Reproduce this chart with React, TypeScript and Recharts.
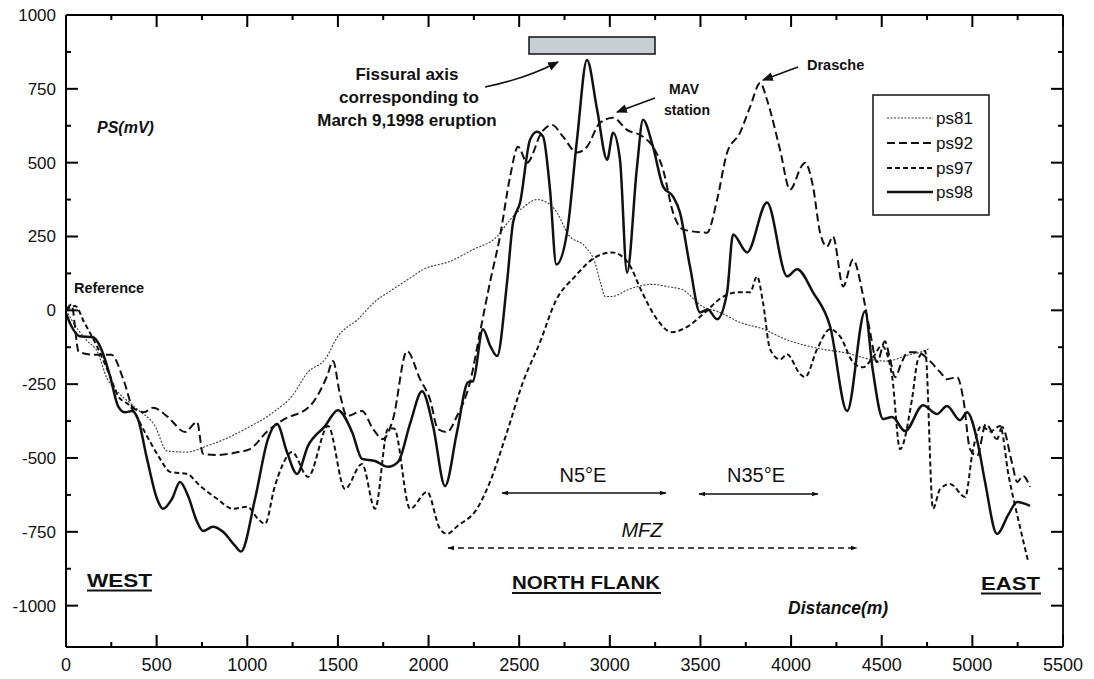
import React from "react";
import { LineChart, Line, XAxis, YAxis, ReferenceLine } from "recharts";

// distance (m), PS (mV)
const ps81: [number, number][] = [
  [0, 0], [60, -60], [120, -105], [171, -138], [226, -230], [287, -277], [392, -334], [491, -392],
  [557, -476], [668, -480], [778, -459], [877, -436], [988, -402], [1153, -341], [1247, -290],
  [1335, -209], [1429, -166], [1500, -88], [1611, -30], [1705, 30], [1788, 65], [1900, 110],
  [1970, 138], [2119, 166], [2246, 206], [2378, 250], [2450, 307], [2521, 348], [2598, 375],
  [2654, 365], [2709, 331], [2770, 257], [2863, 216], [2918, 162], [2950, 90], [2974, 47],
  [3012, 47], [3100, 70], [3156, 81], [3233, 88], [3320, 80], [3398, 71], [3509, 14], [3608, -7],
  [3718, -41], [3840, -62], [3978, -100], [4160, -130], [4309, -145], [4436, -166], [4530, -172],
  [4640, -152], [4711, -142], [4760, -130],
];

const ps92: [number, number][] = [
  [0, 0], [30, 20], [70, -140], [150, -150], [250, -150], [320, -240], [370, -330], [430, -345],
  [480, -330], [560, -360], [657, -412], [723, -378], [756, -486], [830, -490], [950, -480],
  [1015, -470], [1110, -410], [1200, -370], [1346, -324], [1440, -223], [1473, -172], [1510, -280],
  [1550, -358], [1633, -341], [1694, -402], [1749, -436], [1804, -368], [1881, -138], [1953, -233],
  [2008, -301], [2052, -402], [2102, -412], [2157, -358], [2229, -243], [2284, -74], [2339, 95],
  [2394, 250], [2450, 453], [2494, 554], [2543, 500], [2626, 605], [2681, 628], [2742, 588],
  [2819, 534], [2874, 554], [2946, 635], [3018, 652], [3095, 611], [3183, 588], [3238, 554],
  [3294, 476], [3349, 331], [3404, 274], [3536, 263], [3592, 375], [3647, 534], [3718, 601],
  [3774, 689], [3830, 770], [3867, 713], [3939, 544], [3994, 409], [4060, 490], [4077, 500],
  [4121, 419], [4160, 263], [4198, 216], [4231, 250], [4287, 81], [4342, 172], [4397, 50],
  [4436, -74], [4474, -176], [4518, -105], [4546, -166], [4574, -226], [4610, -176], [4645, -142],
  [4700, -142], [4756, -166], [4822, -209], [4860, -233], [4916, -226], [4950, -300], [4987, -470],
  [5026, -493], [5075, -385], [5136, -436], [5164, -395], [5220, -520], [5247, -581], [5280, -561],
  [5318, -598],
];

const ps97: [number, number][] = [
  [0, 0], [50, 15], [100, -40], [171, -122], [243, -223], [287, -290], [353, -324], [447, -426],
  [519, -503], [574, -547], [668, -554], [739, -594], [833, -638], [921, -672], [1000, -665],
  [1059, -706], [1098, -723], [1150, -600], [1192, -527], [1247, -480], [1335, -564], [1446, -392],
  [1539, -605], [1633, -520], [1705, -672], [1776, -402], [1810, -400], [1898, -672], [1992, -615],
  [2063, -740], [2102, -757], [2160, -730], [2267, -672], [2339, -581], [2433, -412], [2521, -243],
  [2615, -108], [2700, 30], [2808, 115], [2918, 179], [3012, 196], [3100, 162], [3178, 61],
  [3249, -20], [3343, -74], [3431, -54], [3525, -7], [3619, 44], [3702, 61], [3774, 61], [3812, 115],
  [3845, 27], [3884, -132], [3939, -166], [3978, -149], [4050, -216], [4077, -226], [4143, -132],
  [4215, -64], [4270, -88], [4342, -176], [4397, -193], [4452, -159], [4500, -120], [4557, -223],
  [4601, -470], [4667, -301], [4700, -166], [4740, -138], [4783, -672], [4822, -605], [4877, -588],
  [4960, -632], [5004, -470], [5050, -392], [5100, -410], [5153, -392], [5200, -560], [5250, -700],
  [5307, -848],
];

const ps98: [number, number][] = [
  [0, -10], [30, -54], [77, -88], [149, -91], [188, -122], [243, -223], [287, -324], [326, -345],
  [364, -341], [397, -368], [447, -503], [502, -638], [535, -672], [585, -638], [629, -581],
  [673, -628], [723, -716], [756, -747], [811, -733], [866, -750], [932, -797], [965, -817],
  [1043, -638], [1114, -436], [1164, -385], [1219, -480], [1274, -554], [1335, -459], [1429, -392],
  [1500, -338], [1578, -412], [1633, -503], [1705, -510], [1776, -530], [1832, -513], [1900, -380],
  [1964, -274], [2025, -392], [2091, -595], [2157, -412], [2218, -243], [2245, -240], [2300, -64],
  [2340, -120], [2378, -155], [2433, 95], [2466, 297], [2505, 365], [2560, 578], [2598, 605],
  [2632, 588], [2670, 409], [2705, 155], [2764, 263], [2819, 578], [2874, 848], [2930, 679],
  [2985, 510], [3018, 601], [3056, 510], [3095, 128], [3150, 486], [3183, 645], [3238, 554],
  [3294, 419], [3349, 385], [3387, 331], [3442, 149], [3498, -7], [3540, 3], [3592, -30], [3647, 61],
  [3680, 257], [3757, 196], [3867, 365], [3978, 115], [4033, 139], [4121, 61], [4215, -54],
  [4309, -341], [4408, -3], [4450, -200], [4508, -368], [4557, -361], [4629, -409], [4728, -321],
  [4805, -351], [4860, -324], [4932, -372], [4971, -345], [5030, -450], [5070, -581], [5136, -757],
  [5200, -690], [5247, -649], [5318, -662],
];

const xTicks = Array.from({ length: 23 }, (_, i) => i * 250);
const yTicks = Array.from({ length: 17 }, (_, i) => -1000 + i * 125);
const xLabels = xTicks.filter((v) => v % 500 === 0);
const yLabels = yTicks.filter((v) => v % 250 === 0);

const X_MIN = 0;
const X_MAX = 5500;
const Y_MIN = -1140;
const Y_MAX = 1000;

// plot box in page pixels (matches the chart margins + axis sizes below)
const PLOT = { left: 66, top: 15, right: 1063, bottom: 647 };
const sx = (v: number) => PLOT.left + ((v - X_MIN) / (X_MAX - X_MIN)) * (PLOT.right - PLOT.left);
const sy = (v: number) => PLOT.top + ((Y_MAX - v) / (Y_MAX - Y_MIN)) * (PLOT.bottom - PLOT.top);

const toRows = (pts: [number, number][]) => pts.map(([x, v]) => ({ x, v }));

const series = [
  { name: "ps81", pts: ps81, dash: "2 1.5", width: 1.1, color: "#3a3a3a" },
  { name: "ps92", pts: ps92, dash: "8 4", width: 2, color: "#111" },
  { name: "ps97", pts: ps97, dash: "5 3", width: 2, color: "#111" },
  { name: "ps98", pts: ps98, dash: undefined, width: 2.5, color: "#111" },
];

const FONT = "'Liberation Sans', Arial, Helvetica, sans-serif";

const BottomLabel = (props: any) => {
  const { x, y, payload } = props;
  return (
    <text x={x} y={y + 24} textAnchor="middle" fontSize={18} fill="#111" fontFamily={FONT}>
      {payload.value}
    </text>
  );
};

const LeftLabel = (props: any) => {
  const { x, y, payload } = props;
  return (
    <text x={x - 10} y={y + 6} textAnchor="end" fontSize={17} fill="#111" fontFamily={FONT}>
      {payload.value}
    </text>
  );
};

function FrameTicks() {
  const s = { stroke: "#000", strokeWidth: 2 };
  return (
    <g>
      {xTicks.map((v) => {
        const len = v % 500 === 0 ? 12 : 5;
        const x = sx(v);
        return (
          <g key={`x${v}`}>
            <line x1={x} y1={PLOT.bottom} x2={x} y2={PLOT.bottom - len} {...s} />
            <line x1={x} y1={PLOT.top} x2={x} y2={PLOT.top + len} {...s} />
          </g>
        );
      })}
      {yTicks.map((v) => {
        const len = v % 250 === 0 ? 12 : 5;
        const y = sy(v);
        return (
          <g key={`y${v}`}>
            <line x1={PLOT.left} y1={y} x2={PLOT.left + len} y2={y} {...s} />
            <line x1={PLOT.right} y1={y} x2={PLOT.right - len} y2={y} {...s} />
          </g>
        );
      })}
    </g>
  );
}

function Annotations() {
  const bold = { fontFamily: FONT, fontWeight: 700, fill: "#111" } as const;
  const legendRows = [118, 143, 168, 192];
  return (
    <svg
      width={1094}
      height={679}
      style={{ position: "absolute", left: 0, top: 0, pointerEvents: "none" }}
    >
      <defs>
        <marker id="head" viewBox="0 0 10 10" refX="9" refY="5" markerWidth="7" markerHeight="7"
          orient="auto-start-reverse" markerUnits="userSpaceOnUse">
          <path d="M0,1.5 L10,5 L0,8.5 z" fill="#111" />
        </marker>
        <marker id="bighead" viewBox="0 0 10 10" refX="9" refY="5" markerWidth="11" markerHeight="11"
          orient="auto" markerUnits="userSpaceOnUse">
          <path d="M0,1 L10,5 L0,9 z" fill="#111" />
        </marker>
      </defs>

      <FrameTicks />

      <text x={97} y={133} fontSize={16} fontStyle="italic" {...bold}>PS(mV)</text>
      <text x={74} y={293} fontSize={14.5} {...bold}>Reference</text>

      <rect x={529} y={37} width={126} height={17} fill="#c9cdd4" stroke="#111" strokeWidth={1.5} />
      <text x={407} y={80} fontSize={17} textAnchor="middle" {...bold}>Fissural axis</text>
      <text x={409} y={103} fontSize={17} textAnchor="middle" {...bold}>corresponding to</text>
      <text x={407} y={126} fontSize={17} textAnchor="middle" {...bold}>March 9,1998 eruption</text>
      <path d="M485,87 Q525,79 558,62" fill="none" stroke="#111" strokeWidth={1.6} markerEnd="url(#bighead)" />

      <text x={684} y={94} fontSize={14} textAnchor="middle" {...bold}>MAV</text>
      <text x={687} y={115} fontSize={14} textAnchor="middle" {...bold}>station</text>
      <line x1={655} y1={98} x2={617} y2={112} stroke="#111" strokeWidth={1.6} markerEnd="url(#bighead)" />

      <text x={807} y={70} fontSize={14.5} {...bold}>Drasche</text>
      <line x1={798} y1={67} x2={763} y2={80} stroke="#111" strokeWidth={1.6} markerEnd="url(#bighead)" />

      <rect x={873} y={95} width={116} height={120} fill="#fff" stroke="#111" strokeWidth={1.5} />
      {series.map((s, i) => (
        <g key={s.name}>
          <line x1={887} y1={legendRows[i]} x2={933} y2={legendRows[i]} stroke={s.color}
            strokeWidth={s.width} strokeDasharray={s.dash} />
          <text x={936} y={legendRows[i] + 6} fontSize={17} fill="#111" fontFamily={FONT}>{s.name}</text>
        </g>
      ))}

      <text x={583} y={482} fontSize={20} textAnchor="middle" fill="#111" fontFamily={FONT}>N5°E</text>
      <line x1={502} y1={493} x2={666} y2={493} stroke="#111" strokeWidth={1.5}
        markerStart="url(#head)" markerEnd="url(#head)" />
      <text x={756} y={482} fontSize={20} textAnchor="middle" fill="#111" fontFamily={FONT}>N35°E</text>
      <line x1={699} y1={494} x2={818} y2={494} stroke="#111" strokeWidth={1.5}
        markerStart="url(#head)" markerEnd="url(#head)" />

      <text x={642} y={537} fontSize={20} textAnchor="middle" fontStyle="italic" fill="#111" fontFamily={FONT}>MFZ</text>
      <line x1={448} y1={548} x2={857} y2={548} stroke="#111" strokeWidth={1.5} strokeDasharray="6 4"
        markerStart="url(#head)" markerEnd="url(#head)" />

      <text x={512} y={589} fontSize={19} textLength={148} lengthAdjust="spacingAndGlyphs" {...bold}>NORTH FLANK</text>
      <line x1={512} y1={593} x2={661} y2={593} stroke="#111" strokeWidth={2} />
      <text x={87} y={587} fontSize={19} textLength={65} lengthAdjust="spacingAndGlyphs" {...bold}>WEST</text>
      <line x1={87} y1={590.5} x2={152} y2={590.5} stroke="#111" strokeWidth={2} />
      <text x={981} y={590} fontSize={19} textLength={59} lengthAdjust="spacingAndGlyphs" {...bold}>EAST</text>
      <line x1={981} y1={593.5} x2={1041} y2={593.5} stroke="#111" strokeWidth={2} />

      <text x={788} y={614} fontSize={17.5} fontStyle="italic" {...bold}>Distance(m)</text>
    </svg>
  );
}

export default function App() {
  return (
    <div style={{ position: "relative", width: 1094, height: 679, margin: -8, background: "#fff", fontFamily: FONT }}>
      <LineChart width={1094} height={679} margin={{ top: 15, right: 31, bottom: 2, left: 16 }}>
        <XAxis xAxisId="b" type="number" dataKey="x" domain={[X_MIN, X_MAX]} ticks={xLabels} interval={0}
          allowDataOverflow height={30} tickSize={0} tickMargin={0} tickLine={false} tick={BottomLabel}
          axisLine={{ stroke: "#000", strokeWidth: 2 }} />
        <YAxis yAxisId="l" type="number" domain={[Y_MIN, Y_MAX]} ticks={yLabels} interval={0}
          allowDataOverflow width={50} tickSize={0} tickMargin={0} tickLine={false} tick={LeftLabel}
          axisLine={{ stroke: "#000", strokeWidth: 2 }} />

        {/* frame: top and right sides */}
        <ReferenceLine xAxisId="b" yAxisId="l" y={Y_MAX} stroke="#000" strokeWidth={1.8} ifOverflow="visible" />
        <ReferenceLine xAxisId="b" yAxisId="l" x={X_MAX} stroke="#000" strokeWidth={1.8} ifOverflow="visible" />

        {series.map((s) => (
          <Line key={s.name} xAxisId="b" yAxisId="l" data={toRows(s.pts)} dataKey="v" name={s.name}
            type="monotone" stroke={s.color} strokeWidth={s.width} strokeDasharray={s.dash}
            dot={false} activeDot={false} isAnimationActive={false} />
        ))}
      </LineChart>
      <Annotations />
    </div>
  );
}
